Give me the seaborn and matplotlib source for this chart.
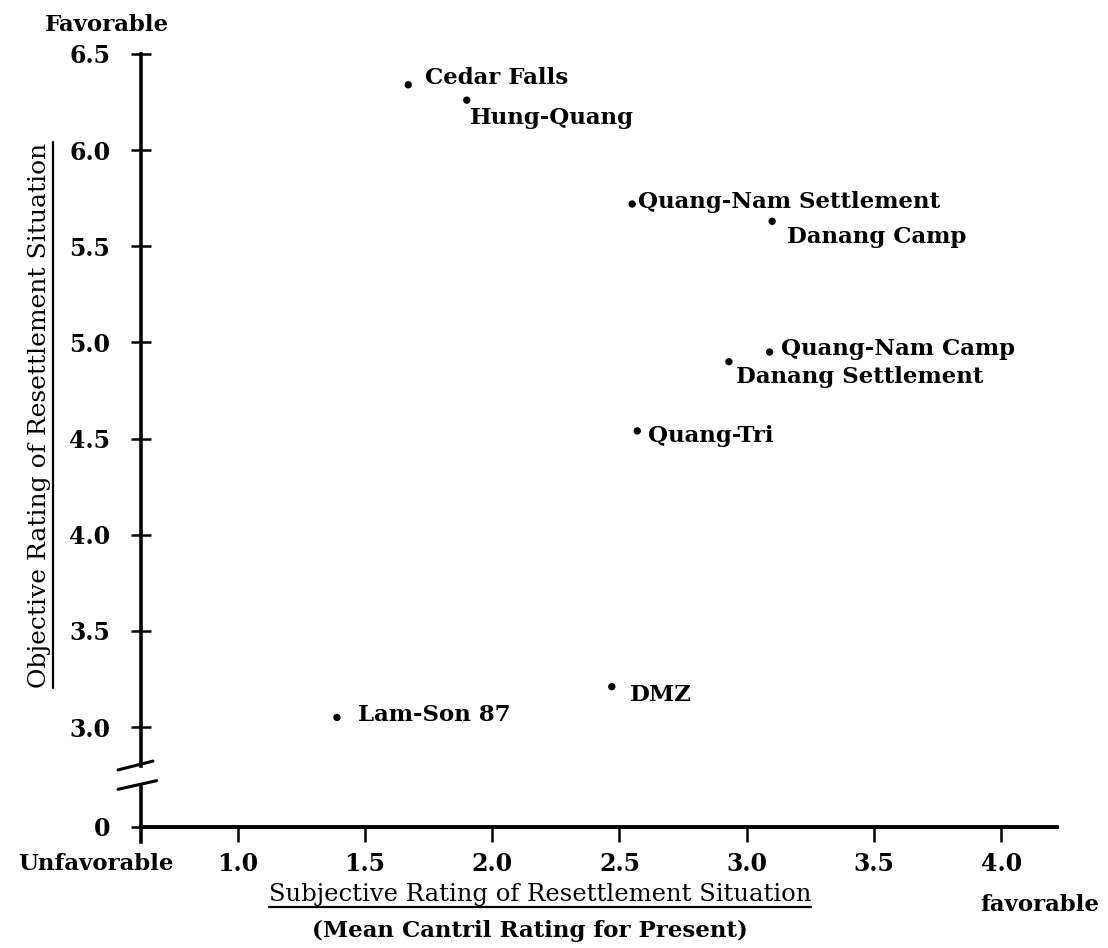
import matplotlib
matplotlib.use("Agg")
import matplotlib.pyplot as plt
from matplotlib.lines import Line2D
import pandas as pd
import seaborn as sns

# values
sites = ["Cedar Falls", "Hung-Quang", "Quang-Nam Settlement", "Danang Camp",
         "Quang-Nam Camp", "Danang Settlement", "Quang-Tri", "DMZ", "Lam-Son 87"]
subjective = [1.67, 1.90, 2.55, 3.10, 3.09, 2.93, 2.57, 2.47, 1.39]
objective = [6.34, 6.26, 5.72, 5.63, 4.95, 4.90, 4.54, 3.21, 3.05]

x_ticks = [1.0, 1.5, 2.0, 2.5, 3.0, 3.5, 4.0]
y_ticks = [3.0, 3.5, 4.0, 4.5, 5.0, 5.5, 6.0, 6.5]

# label placement next to each dot (points)
label_offsets = {
    "Cedar Falls": (12, 5),
    "Hung-Quang": (2, -13),
    "Quang-Nam Settlement": (4, 1.5),
    "Danang Camp": (11, -11.5),
    "Quang-Nam Camp": (8, 2),
    "Danang Settlement": (5, -11),
    "Quang-Tri": (8, -4),
    "DMZ": (13, -6),
    "Lam-Son 87": (15, 1.5),
}

df = pd.DataFrame({"site": sites, "subjective": subjective, "objective": objective})

sns.set_style("ticks")
plt.rcParams["font.family"] = ["DejaVu Serif"]
plt.rcParams["font.size"] = 16
plt.rcParams["text.color"] = "black"

W, H = 1108, 948
fig = plt.figure(figsize=(W / 100, H / 100), dpi=100)

x_lo, x_hi = 0.62, 4.22
px_per_x = 254.5
px_per_y = 192.3
left = 141 / W
width = (x_hi - x_lo) * px_per_x / W

# upper part of the broken y axis
y_lo, y_hi = 2.80, 6.62
top_px = 54 - (y_hi - 6.5) * px_per_y
bot_px = 54 + (6.5 - y_lo) * px_per_y
ax = fig.add_axes([left, 1 - bot_px / H, width, (bot_px - top_px) / H])

# lower part holding the zero and the x axis
z_lo, z_hi = -0.08, 0.22
zt_px = 827 - z_hi * px_per_y
zb_px = 827 - z_lo * px_per_y
ax0 = fig.add_axes([left, 1 - zb_px / H, width, (zb_px - zt_px) / H])

sns.scatterplot(data=df, x="subjective", y="objective", ax=ax,
                color="black", s=28, edgecolor="none", legend=False)

for _, row in df.iterrows():
    dx, dy = label_offsets[row["site"]]
    ax.annotate(row["site"], (row["subjective"], row["objective"]),
                xytext=(dx, dy), textcoords="offset points",
                ha="left", va="center", fontsize=16.5, fontweight="bold")

ax.set_xlim(x_lo, x_hi)
ax.set_ylim(y_lo, y_hi)
ax0.set_xlim(x_lo, x_hi)
ax0.set_ylim(z_lo, z_hi)

for a in (ax, ax0):
    a.patch.set_visible(False)
    a.spines["top"].set_visible(False)
    a.spines["right"].set_visible(False)
    a.spines["left"].set_linewidth(2.6)
    a.spines["left"].set_color("black")
    a.set_xlabel("")
    a.set_ylabel("")

ax.spines["bottom"].set_visible(False)
ax.spines["left"].set_bounds(y_lo, 6.5)
ax.set_xticks([])
ax.set_yticks(y_ticks)
ax.set_yticklabels([f"{v:.1f}" for v in y_ticks])

ax0.spines["bottom"].set_position(("data", 0))
ax0.spines["bottom"].set_linewidth(2.8)
ax0.spines["bottom"].set_color("black")
ax0.set_yticks([0])
ax0.set_yticklabels(["0"])
ax0.set_xticks(x_ticks)
ax0.set_xticklabels([f"{v:.1f}" for v in x_ticks])

for a in (ax, ax0):
    a.tick_params(axis="y", direction="inout", length=14, width=1.8,
                  pad=15, labelsize=17, colors="black")
    a.tick_params(axis="x", direction="out", length=11, width=1.8,
                  pad=7, labelsize=17, colors="black")
    for lab in a.get_xticklabels() + a.get_yticklabels():
        lab.set_fontweight("bold")

# break marks on the y axis
brk = dict(color="black", lw=2.2, clip_on=False)
ax.plot([-0.025, 0.013], [-0.006, 0.006], transform=ax.transAxes, **brk)
ax0.plot([-0.025, 0.017], [0.92, 1.07], transform=ax0.transAxes, **brk)

# corner captions and axis titles
fig.text(107 / W, 1 - 25 / H, "Favorable", ha="center", va="center",
         fontsize=16.5, fontweight="bold")
fig.text(96 / W, 1 - 864 / H, "Unfavorable", ha="center", va="center",
         fontsize=16.5, fontweight="bold")
fig.text(1040 / W, 1 - 905 / H, "favorable", ha="center", va="center",
         fontsize=16.5, fontweight="bold")

ylab = fig.text(40 / W, 1 - 415 / H, "Objective Rating of Resettlement Situation",
                rotation=90, ha="center", va="center", fontsize=18)
xlab = fig.text(540 / W, 1 - 894 / H, "Subjective Rating of Resettlement Situation",
                ha="center", va="center", fontsize=17.5)
fig.text(530 / W, 1 - 931 / H, "(Mean Cantril Rating for Present)",
         ha="center", va="center", fontsize=16.5, fontweight="bold")

# underline the two axis titles
fig.canvas.draw()
inv = fig.transFigure.inverted()
bb = xlab.get_window_extent()
(x0, y0), (x1, _) = inv.transform([(bb.x0, bb.y0 - 1), (bb.x1, bb.y0)])
fig.add_artist(Line2D([x0, x1], [y0, y0], transform=fig.transFigure, color="black", lw=1.6))
bb = ylab.get_window_extent()
(x0, y0), (_, y1) = inv.transform([(bb.x1 + 1, bb.y0), (bb.x1, bb.y1)])
fig.add_artist(Line2D([x0, x0], [y0, y1], transform=fig.transFigure, color="black", lw=1.6))

fig.savefig("out.png", dpi=100, facecolor="white")
